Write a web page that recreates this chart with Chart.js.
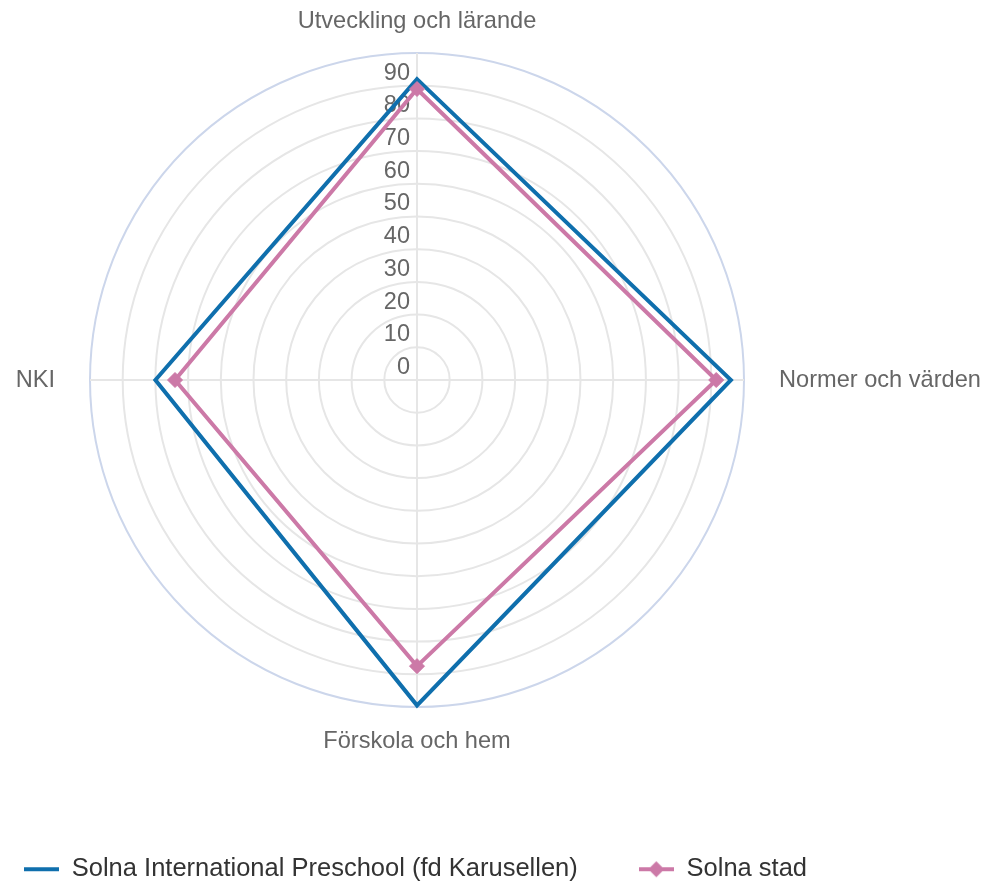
<!DOCTYPE html>
<html>
<head>
<meta charset="utf-8">
<script src="https://cdn.jsdelivr.net/npm/chart.js@4.4.1/dist/chart.umd.min.js"></script>
<style>
  html, body { margin: 0; padding: 0; background: #fff; }
  #wrap { width: 984px; height: 885px; position: relative; }
</style>
</head>
<body>
<div id="wrap"><canvas id="radar"></canvas></div>
<script>
// categories and series
var CATEGORIES = ['Utveckling och lärande', 'Normer och värden', 'Förskola och hem', 'NKI'];
var SCHOOL_NAME = 'Solna International Preschool (fd Karusellen)';
var SCHOOL = [92, 96, 99.5, 80];
var CITY_NAME = 'Solna stad';
var CITY = [89, 91.5, 87.5, 74];
var TICK_VALUES = [0, 10, 20, 30, 40, 50, 60, 70, 80, 90];
var TICK_LABELS = ['0', '10', '20', '30', '40', '50', '60', '70', '80', '90'];

var BLUE = '#0f6fad';
var PINK = '#cc79a7';
var FONT = '"Liberation Sans", Arial, Helvetica, sans-serif';

// radar placement in the canvas (center + outer radius)
var RADAR = { x: 417, y: 380, r: 327 };

// small swatches for the legend: a line, optionally with a diamond on it
function swatch(color, withMarker) {
  var c = document.createElement('canvas');
  c.width = 35; c.height = 18;
  var g = c.getContext('2d');
  g.fillStyle = color;
  g.fillRect(0, 7, 35, 4);
  if (withMarker) {
    g.beginPath();
    g.moveTo(17.5 - 8, 9);
    g.lineTo(17.5, 1);
    g.lineTo(17.5 + 8, 9);
    g.lineTo(17.5, 17);
    g.closePath();
    g.fill();
  }
  return c;
}
var swatches = [swatch(BLUE, false), swatch(PINK, true)];

// value labels sit just above their ring, right-aligned against the vertical axis
var tickLabels = {
  id: 'tickLabels',
  beforeDatasetsDraw: function (chart) {
    var s = chart.scales.r;
    var ctx = chart.ctx;
    ctx.save();
    ctx.font = '23.5px ' + FONT;
    ctx.fillStyle = '#666666';
    ctx.textAlign = 'right';
    ctx.textBaseline = 'middle';
    TICK_VALUES.forEach(function (v, i) {
      var d = s.getDistanceFromCenterForValue(v);
      ctx.fillText(TICK_LABELS[i], s.xCenter - 7, s.yCenter - d - 12.5);
    });
    ctx.restore();
  }
};

new Chart(document.getElementById('radar'), {
  type: 'radar',
  data: {
    labels: CATEGORIES,
    datasets: [{
      label: SCHOOL_NAME,
      data: SCHOOL,
      borderColor: BLUE,
      backgroundColor: BLUE,
      borderWidth: 4,
      fill: false,
      pointRadius: 0,
      pointHoverRadius: 0,
      order: 2
    }, {
      label: CITY_NAME,
      data: CITY,
      borderColor: PINK,
      backgroundColor: PINK,
      borderWidth: 4,
      fill: false,
      pointStyle: 'rectRot',
      pointRadius: 7.5,
      pointBorderWidth: 1,
      pointBackgroundColor: PINK,
      pointBorderColor: PINK,
      order: 1
    }]
  },
  options: {
    responsive: true,
    maintainAspectRatio: false,
    animation: false,
    layout: {
      padding: { left: -37, right: 0, top: 0, bottom: -7 }
    },
    scales: {
      r: {
        min: 0,
        max: 100,
        ticks: { stepSize: 10, display: false },
        grid: {
          circular: true,
          lineWidth: 2,
          color: function (c) {
            return c.tick && c.tick.value === 100 ? '#ccd6eb' : '#e6e6e6';
          }
        },
        angleLines: { color: '#e6e6e6', lineWidth: 2 },
        pointLabels: {
          color: '#666666',
          font: { family: FONT, size: 23.6 },
          padding: function (c) {
            return [17.5, 35, 20, 35][c.index];
          }
        },
        afterSetDimensions: function (s) {
          s.xCenter = RADAR.x;
          s.yCenter = RADAR.y;
          s.drawingArea = RADAR.r;
        }
      }
    },
    plugins: {
      legend: {
        position: 'bottom',
        align: 'start',
        labels: {
          color: '#333333',
          font: { family: FONT, size: 25.5 },
          usePointStyle: true,
          pointStyleWidth: 35,
          padding: 61,
          sort: function (a, b) { return a.datasetIndex - b.datasetIndex; },
          generateLabels: function (chart) {
            var items = Chart.defaults.plugins.legend.labels.generateLabels(chart);
            items.forEach(function (it) { it.pointStyle = swatches[it.datasetIndex]; });
            return items;
          }
        }
      },
      tooltip: { enabled: false }
    }
  },
  plugins: [tickLabels]
});
</script>
</body>
</html>
